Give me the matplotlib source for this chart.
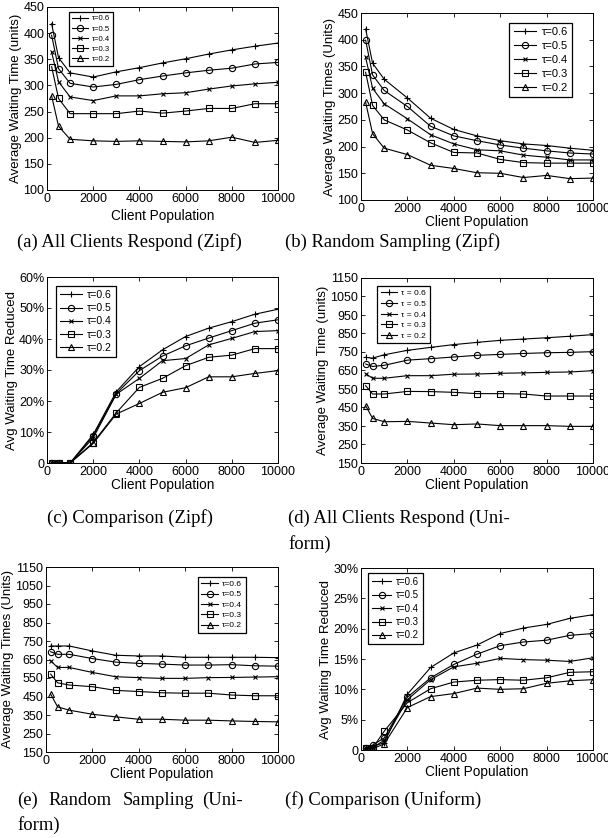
import matplotlib
matplotlib.use("Agg")
import matplotlib.pyplot as plt

plt.rcParams['font.family'] = ['Liberation Sans', 'DejaVu Sans']

# client population (x axis, shared by every panel)
clients = [200, 500, 1000, 2000, 3000, 4000, 5000, 6000, 7000, 8000, 9000, 10000]
taus = ['0.6', '0.5', '0.4', '0.3', '0.2']
markers = ['+', 'o', 'x', 's', '^']

# (a) All Clients Respond (Zipf)
a_06 = [418, 353, 324, 316, 326, 334, 343, 351, 360, 368, 375, 381]
a_05 = [396, 332, 304, 297, 302, 311, 318, 324, 329, 333, 341, 344]
a_04 = [364, 307, 278, 271, 280, 280, 284, 286, 293, 299, 303, 306]
a_03 = [336, 275, 246, 246, 246, 251, 247, 251, 256, 256, 265, 265]
a_02 = [280, 222, 197, 194, 193, 194, 193, 192, 194, 201, 191, 195]

# (b) Random Sampling (Zipf)
b_06 = [420, 356, 326, 291, 253, 232, 220, 211, 205, 202, 197, 193]
b_05 = [399, 334, 305, 275, 238, 220, 211, 203, 197, 192, 188, 186]
b_04 = [367, 309, 280, 252, 222, 205, 194, 192, 184, 180, 175, 175]
b_03 = [339, 277, 250, 231, 207, 189, 188, 176, 170, 169, 169, 169]
b_02 = [283, 224, 197, 185, 165, 159, 151, 150, 142, 146, 140, 141]

# (c) Comparison (Zipf), percent
c_06 = [0, 0, 0, 9.2, 23.0, 31.1, 36.5, 40.8, 43.5, 45.6, 48.0, 49.6]
c_05 = [0, 0, 0, 8.7, 22.4, 29.8, 34.5, 37.8, 40.3, 42.7, 45.1, 46.2]
c_04 = [0, 0, 0, 8.1, 22.2, 27.3, 33.0, 33.7, 38.1, 40.2, 42.4, 42.7]
c_03 = [0, 0, 0, 6.6, 16.2, 24.4, 27.3, 31.4, 34.1, 34.8, 36.9, 36.9]
c_02 = [0, 0, 0, 6.3, 15.8, 19.2, 22.8, 24.3, 27.8, 27.8, 28.9, 29.8]

# (d) All Clients Respond (Uniform)
d_06 = [721, 717, 735, 759, 775, 790, 802, 813, 820, 827, 835, 844]
d_05 = [685, 672, 678, 706, 714, 723, 732, 737, 742, 746, 748, 752]
d_04 = [633, 608, 608, 622, 622, 630, 631, 635, 637, 640, 642, 649]
d_03 = [568, 523, 523, 537, 536, 532, 525, 525, 523, 512, 512, 512]
d_02 = [460, 391, 373, 375, 366, 357, 361, 352, 352, 352, 348, 348]

# (e) Random Sampling (Uniform)
e_06 = [723, 723, 723, 696, 673, 669, 669, 662, 662, 662, 662, 660]
e_05 = [692, 678, 678, 655, 636, 629, 625, 620, 620, 622, 616, 614]
e_04 = [643, 607, 607, 580, 557, 552, 548, 548, 552, 553, 555, 557]
e_03 = [571, 524, 512, 503, 483, 477, 470, 468, 468, 458, 454, 454]
e_02 = [463, 394, 376, 354, 340, 327, 327, 322, 322, 318, 315, 313]

# (f) Comparison (Uniform), percent
f_06 = [0.4, 0.6, 1.2, 9.2, 13.6, 16.0, 17.3, 19.2, 20.1, 20.7, 21.7, 22.3]
f_05 = [0.3, 0.8, 2.0, 8.7, 11.9, 14.1, 15.8, 17.2, 17.8, 18.1, 18.9, 19.2]
f_04 = [0.3, 0.4, 1.6, 8.3, 11.6, 13.7, 14.3, 15.1, 14.9, 14.8, 14.6, 15.2]
f_03 = [0.3, 0.3, 3.1, 7.8, 10.1, 11.2, 11.5, 11.6, 11.5, 11.9, 12.8, 12.9]
f_02 = [0.2, 0.2, 1.0, 7.0, 8.8, 9.3, 10.2, 10.0, 10.1, 11.0, 11.4, 11.6]

W, H = 608, 838
fig = plt.figure(figsize=(W / 100, H / 100), dpi=100)


def px_axes(x0, x1, y0, y1):
    # axes from pixel box (top-left origin)
    return fig.add_axes([x0 / W, 1 - y1 / H, (x1 - x0) / W, (y1 - y0) / H])


def panel(ax, series, yticks, ylabels, ylabel, leg_xy, leg_fs, spaced=False,
          xpad=2, lsp=0.35):
    for ys, t, m in zip(series, taus, markers):
        lab = ('τ = ' if spaced else 'τ=') + t
        ms = 3.5 if m == 'x' else 4.5
        ax.plot(clients, ys, color='black', lw=0.8, marker=m, ms=ms,
                mfc='none', mec='black', mew=0.8, label=lab)
    ax.set_xlim(0, 10000)
    ax.set_xticks(range(0, 10001, 2000))
    ax.set_ylim(yticks[0], yticks[-1])
    ax.set_yticks(yticks)
    ax.set_yticklabels(ylabels)
    ax.tick_params(direction='in', top=True, right=True, length=3,
                   width=0.6, labelsize=9, pad=2)
    for s in ax.spines.values():
        s.set_linewidth(0.7)
    ax.set_xlabel('Client Population', fontsize=9.8, labelpad=xpad)
    ax.set_ylabel(ylabel, fontsize=9.5, labelpad=1)
    leg = ax.legend(loc='upper left', bbox_to_anchor=leg_xy, borderaxespad=0,
                    fontsize=leg_fs, fancybox=False, framealpha=1,
                    edgecolor='black', handlelength=2.0, handletextpad=0.5,
                    labelspacing=lsp, borderpad=0.4)
    leg.get_frame().set_linewidth(0.9)


y_zipf = list(range(100, 451, 50))
y_uni = list(range(150, 1151, 100))
y_pc60 = list(range(0, 61, 10))
y_pc30 = list(range(0, 31, 5))

ax = px_axes(47, 278, 7, 190)
panel(ax, [a_06, a_05, a_04, a_03, a_02], y_zipf, [str(v) for v in y_zipf],
      'Average Waiting Time (units)', (0.095, 0.973), 5.6, xpad=3)

ax = px_axes(361, 593, 13, 200)
panel(ax, [b_06, b_05, b_04, b_03, b_02], y_zipf, [str(v) for v in y_zipf],
      'Average Waiting Times (Units)', (0.64, 0.947), 8, xpad=0)

ax = px_axes(47, 278, 277, 463)
panel(ax, [c_06, c_05, c_04, c_03, c_02], y_pc60,
      ['0'] + ['%d%%' % v for v in y_pc60[1:]],
      'Avg Waiting Time Reduced', (0.04, 0.952), 7.6, xpad=0, lsp=0.3)

ax = px_axes(361, 593, 278, 463)
panel(ax, [d_06, d_05, d_04, d_03, d_02], y_uni, [str(v) for v in y_uni],
      'Average Waiting Time (units)', (0.07, 0.957), 6, spaced=True, xpad=0)

ax = px_axes(46, 278, 567, 752)
panel(ax, [e_06, e_05, e_04, e_03, e_02], y_uni, [str(v) for v in y_uni],
      'Average Waiting Times (Units)', (0.655, 0.946), 6, xpad=0, lsp=0.3)

ax = px_axes(361, 593, 568, 750)
panel(ax, [f_06, f_05, f_04, f_03, f_02], y_pc30,
      ['0'] + ['%d%%' % v for v in y_pc30[1:]],
      'Avg Waiting Time Reduced', (0.03, 0.973), 7, xpad=0)

# captions
cap = dict(family=['Liberation Serif', 'DejaVu Serif'], fontsize=13.4,
           va='center', ha='left')
fig.text(17 / W, 1 - 242 / H, '(a) All Clients Respond (Zipf)', **cap)
fig.text(285 / W, 1 - 242 / H, '(b) Random Sampling (Zipf)', **cap)
fig.text(47 / W, 1 - 518 / H, '(c) Comparison (Zipf)', **cap)
fig.text(288 / W, 1 - 518 / H, '(d) All Clients Respond (Uni-', **cap)
fig.text(288 / W, 1 - 544 / H, 'form)', **cap)
for word, x in zip(['(e)', 'Random', 'Sampling', '(Uni-'], [17, 48, 123, 202]):
    fig.text(x / W, 1 - 800 / H, word, **cap)
fig.text(17 / W, 1 - 825 / H, 'form)', **cap)
fig.text(285 / W, 1 - 800 / H, '(f) Comparison (Uniform)', **cap)

fig.savefig('out.png', dpi=100)
